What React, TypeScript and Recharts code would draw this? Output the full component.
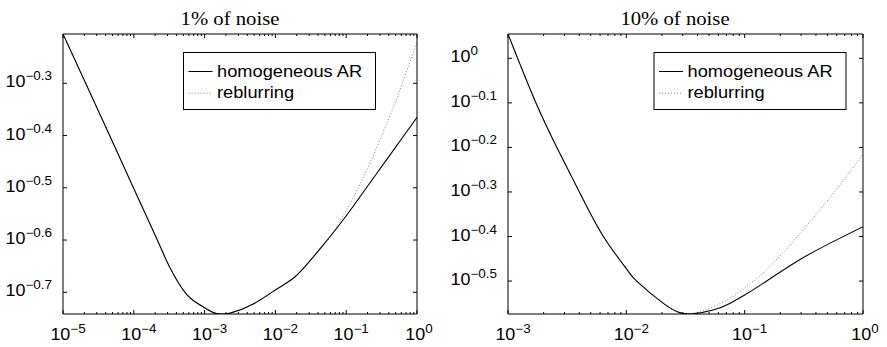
import React from "react"
import { LineChart, Line, XAxis, YAxis, Customized } from "recharts"

// 1% of noise: error vs. regularization parameter
const alpha1Solid = [1e-5, 2.09e-5, 4.56e-5, 9.84e-5, 2.15e-4, 3.1e-4, 5.28e-4, 8.61e-4, 1.33e-3, 1.74e-3, 2.29e-3, 4.88e-3, 1e-2, 1.79e-2, 2.88e-2, 4.75e-2, 9.84e-2, 0.1778, 0.3162, 0.5623, 1]
const err1Solid = [0.6229, 0.5012, 0.3981, 0.3166, 0.2512, 0.2251, 0.1995, 0.1887, 0.1824, 0.1813, 0.182, 0.1895, 0.2016, 0.2122, 0.2268, 0.2458, 0.2786, 0.3115, 0.3471, 0.3869, 0.4315]
const alpha1Reblur = [1e-5, 2.09e-5, 4.56e-5, 9.84e-5, 2.15e-4, 3.1e-4, 5.28e-4, 8.61e-4, 1.33e-3, 1.74e-3, 2.29e-3, 4.88e-3, 1e-2, 1.79e-2, 2.88e-2, 5.01e-2, 7.08e-2, 0.1, 0.133, 0.1995, 0.3162, 0.5012, 0.7079, 1]
const err1Reblur = [0.6229, 0.5012, 0.3981, 0.3166, 0.2512, 0.2251, 0.1995, 0.1887, 0.1824, 0.1813, 0.182, 0.1895, 0.2016, 0.2122, 0.2268, 0.2472, 0.2642, 0.2864, 0.3069, 0.3443, 0.3972, 0.4634, 0.5272, 0.5989]

// 10% of noise
const alpha10Solid = [1e-3, 1.66e-3, 2.576e-3, 4.009e-3, 6.397e-3, 1e-2, 1.222e-2, 2.056e-2, 2.825e-2, 3.548e-2, 5.395e-2, 7.482e-2, 0.1, 0.1429, 0.2735, 0.5224, 1]
const err10Solid = [1.134, 0.8128, 0.6324, 0.5012, 0.3981, 0.3373, 0.3162, 0.2818, 0.2686, 0.2667, 0.2722, 0.2817, 0.2941, 0.3124, 0.3495, 0.3842, 0.4188]
const alpha10Reblur = [1e-3, 1.66e-3, 2.576e-3, 4.009e-3, 6.397e-3, 1e-2, 1.222e-2, 2.056e-2, 2.825e-2, 3.908e-2, 5.395e-2, 7.482e-2, 0.1035, 0.1429, 0.1977, 0.2735, 0.4909, 0.7278, 1]
const err10Reblur = [1.134, 0.8128, 0.6324, 0.5012, 0.3981, 0.3373, 0.3162, 0.2818, 0.2686, 0.2685, 0.2767, 0.2891, 0.3071, 0.3296, 0.3594, 0.3954, 0.4764, 0.5437, 0.6095]

// tick exponents (labels are 10^k)
const xExps1 = [-5, -4, -3, -2, -1, 0]
const xExps10 = [-3, -2, -1, 0]
const yExps1 = [-0.7, -0.6, -0.5, -0.4, -0.3]
const yExps10 = [-0.5, -0.4, -0.3, -0.2, -0.1, 0]

const seriesNames = ["homogeneous AR", "reblurring"]
const titles = ["1% of noise", "10% of noise"]

const SANS = '"Liberation Sans", Arial, Helvetica, sans-serif'
const SERIF = '"Liberation Serif", "Times New Roman", serif'
const SX = 1.12 // glyphs are a bit wide in the original figure

const rows = (xs: number[], ys: number[]) => xs.map((a, i) => ({ alpha: a, err: ys[i] }))

// major + minor (2..9) ticks for a log axis
const logTicks = (exps: number[]) => {
  const out: number[] = []
  exps.forEach((e, i) => {
    out.push(Math.pow(10, e))
    if (i < exps.length - 1) for (let k = 2; k <= 9; k++) out.push(k * Math.pow(10, e))
  })
  return out
}

const isMajor = (v: number) => {
  const l = Math.log10(v)
  return Math.abs(l - Math.round(l)) < 1e-6
}

const expText = (v: number) => {
  const e = Math.round(Math.log10(v) * 10) / 10
  return e < 0 ? `\u2212${Math.abs(e)}` : `${e}`
}

const PowerLabel = ({ x, y, value, anchor }: any) => (
  <g transform={`translate(${x},${y}) scale(${SX},1)`}>
    <text x={0} y={0} textAnchor={anchor} fontFamily={SANS} fontSize={16} fill="#000">
      10
      <tspan dy={-7} fontSize={12}>
        {expText(value)}
      </tspan>
    </text>
  </g>
)

const BottomTick = (props: any) => {
  const { x, y, payload } = props
  const v = payload.value
  if (!isMajor(v)) return <line x1={x} x2={x} y1={y} y2={y - 2} stroke="#000" />
  const shift = Math.log10(v) < -0.5 ? 5 : 2
  return (
    <g>
      <line x1={x} x2={x} y1={y} y2={y - 4} stroke="#000" />
      <PowerLabel x={x + shift} y={y + 26} value={v} anchor="middle" />
    </g>
  )
}

const TopTick = (props: any) => {
  const { x, y, payload } = props
  const len = isMajor(payload.value) ? 4 : 2
  return <line x1={x} x2={x} y1={y} y2={y + len} stroke="#000" />
}

const LeftTick = (props: any) => {
  const { x, y, payload } = props
  return (
    <g>
      <line x1={x} x2={x + 4} y1={y} y2={y} stroke="#000" />
      <PowerLabel x={x - 57.5} y={y + 4} value={payload.value} anchor="start" />
    </g>
  )
}

const RightTick = (props: any) => {
  const { x, y } = props
  return <line x1={x} x2={x - 4} y1={y} y2={y} stroke="#000" />
}

const lineStyles = [
  { stroke: "#000", dash: undefined as string | undefined },
  { stroke: "#7a7a7a", dash: "1 2" },
]

const Overlay = ({ title, titleX, legendX }: any) => (
  <g>
    <g transform={`translate(${titleX},24.5) scale(${SX},1)`}>
      <text textAnchor="middle" fontFamily={SERIF} fontSize={18.5} fill="#000">
        {title}
      </text>
    </g>
    <rect x={legendX} y={52.5} width={192} height={57} fill="#fff" stroke="#000" />
    {seriesNames.map((name, i) => {
      const ly = 71.5 + i * 21.7
      return (
        <g key={name}>
          <line
            x1={legendX + 5}
            x2={legendX + 29}
            y1={ly}
            y2={ly}
            stroke={lineStyles[i].stroke}
            strokeDasharray={lineStyles[i].dash}
          />
          <g transform={`translate(${legendX + 33.5},${ly + 5}) scale(${SX},1)`}>
            <text fontFamily={SANS} fontSize={16.3} fill="#000">
              {name}
            </text>
          </g>
        </g>
      )
    })}
  </g>
)

const Panel = ({ title, titleX, legendX, solid, reblur, xExps, yExps, yWidth, rightMargin }: any) => {
  const all = [...solid, ...reblur].map((r: any) => r.err)
  const yDomain = [Math.min(...all), Math.max(...all)]
  const xDomain = [Math.pow(10, xExps[0]), Math.pow(10, xExps[xExps.length - 1])]
  const xTicks = logTicks(xExps)
  const yTicks = yExps.map((e: number) => Math.pow(10, e))
  const axisCommon = {
    type: "number" as const,
    scale: "log" as const,
    allowDataOverflow: true,
    interval: 0 as const,
    tickSize: 0,
    tickMargin: 0,
    tickLine: false,
    axisLine: { stroke: "#000" },
  }
  return (
    <LineChart width={440} height={347} margin={{ top: 33, right: rightMargin, bottom: 0, left: 0 }}>
      <XAxis xAxisId="b" dataKey="alpha" domain={xDomain} ticks={xTicks} height={33} tick={BottomTick} {...axisCommon} />
      <XAxis xAxisId="t" orientation="top" dataKey="alpha" domain={xDomain} ticks={xTicks} height={1} tick={TopTick} {...axisCommon} />
      <YAxis yAxisId="l" domain={yDomain} ticks={yTicks} width={yWidth} tick={LeftTick} {...axisCommon} />
      <YAxis yAxisId="r" orientation="right" domain={yDomain} ticks={yTicks} width={1} tick={RightTick} {...axisCommon} />
      <Line
        xAxisId="b"
        yAxisId="l"
        data={reblur}
        dataKey="err"
        name={seriesNames[1]}
        type="natural"
        stroke={lineStyles[1].stroke}
        strokeDasharray={lineStyles[1].dash}
        strokeWidth={1}
        dot={false}
        isAnimationActive={false}
      />
      <Line
        xAxisId="b"
        yAxisId="l"
        data={solid}
        dataKey="err"
        name={seriesNames[0]}
        type="natural"
        stroke={lineStyles[0].stroke}
        strokeWidth={1.1}
        dot={false}
        isAnimationActive={false}
      />
      <Customized component={<Overlay title={title} titleX={titleX} legendX={legendX} />} />
    </LineChart>
  )
}

export default function App() {
  return (
    <div style={{ position: "absolute", left: 0, top: 0, width: 887, height: 347, background: "#fff" }}>
      <div style={{ position: "absolute", left: 0, top: 0 }}>
        <Panel
          title={titles[0]}
          titleX={230}
          legendX={183.5}
          solid={rows(alpha1Solid, err1Solid)}
          reblur={rows(alpha1Reblur, err1Reblur)}
          xExps={xExps1}
          yExps={yExps1}
          yWidth={63}
          rightMargin={22}
        />
      </div>
      <div style={{ position: "absolute", left: 447, top: 0 }}>
        <Panel
          title={titles[1]}
          titleX={228}
          legendX={207}
          solid={rows(alpha10Solid, err10Solid)}
          reblur={rows(alpha10Reblur, err10Reblur)}
          xExps={xExps10}
          yExps={yExps10}
          yWidth={61}
          rightMargin={23}
        />
      </div>
    </div>
  )
}
